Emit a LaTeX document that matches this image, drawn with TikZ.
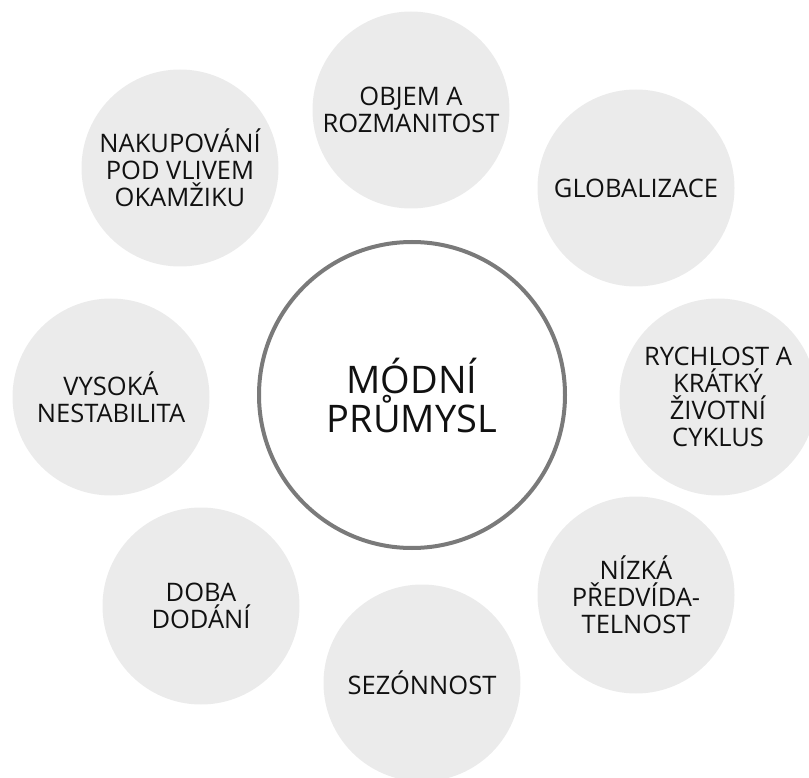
\documentclass[tikz,border=0pt]{standalone}
\usepackage{fontspec}
\setmainfont{Open Sans}
\definecolor{ringColor}{HTML}{7A7A7A}
\definecolor{bubbleColor}{HTML}{EBEBEB}
\definecolor{textColor}{HTML}{111111}

\begin{document}
\begin{tikzpicture}[
    x=1pt, y=-1pt,
    base/.style={circle, inner sep=0pt, align=center, text=textColor},
    hub/.style={base, draw=ringColor, line width=4pt, fill=white, minimum size=306pt, font=\fontsize{38}{39}\selectfont},
    factor/.style={base, fill=bubbleColor, minimum size=197pt, font=\fontsize{25.5}{26.8}\selectfont}
]
\useasboundingbox (0,0) rectangle (809,778);

\node[hub] (Fashion) at (412,395) {MÓDNÍ\\PRŮMYSL};

\node[factor] (Volume) at (411,110) {OBJEM A\\ROZMANITOST};
\node[factor] (Global) at (636,188) {GLOBALIZACE};
\node[factor] (Speed) at (718,397) {RYCHLOST A\\KRÁTKÝ\\ŽIVOTNÍ\\CYKLUS};
\node[factor] (Predict) at (636,595) {NÍZKÁ\\PŘEDVÍDA-\\TELNOST};
\node[factor] (Season) at (422,683) {SEZÓNNOST};
\node[factor] (Lead) at (201,606) {DOBA\\DODÁNÍ};
\node[factor] (Volatile) at (111,397) {VYSOKÁ\\NESTABILITA};
\node[factor] (Impulse) at (180,168) {NAKUPOVÁNÍ\\POD VLIVEM\\OKAMŽIKU};

\end{tikzpicture}
\end{document}
